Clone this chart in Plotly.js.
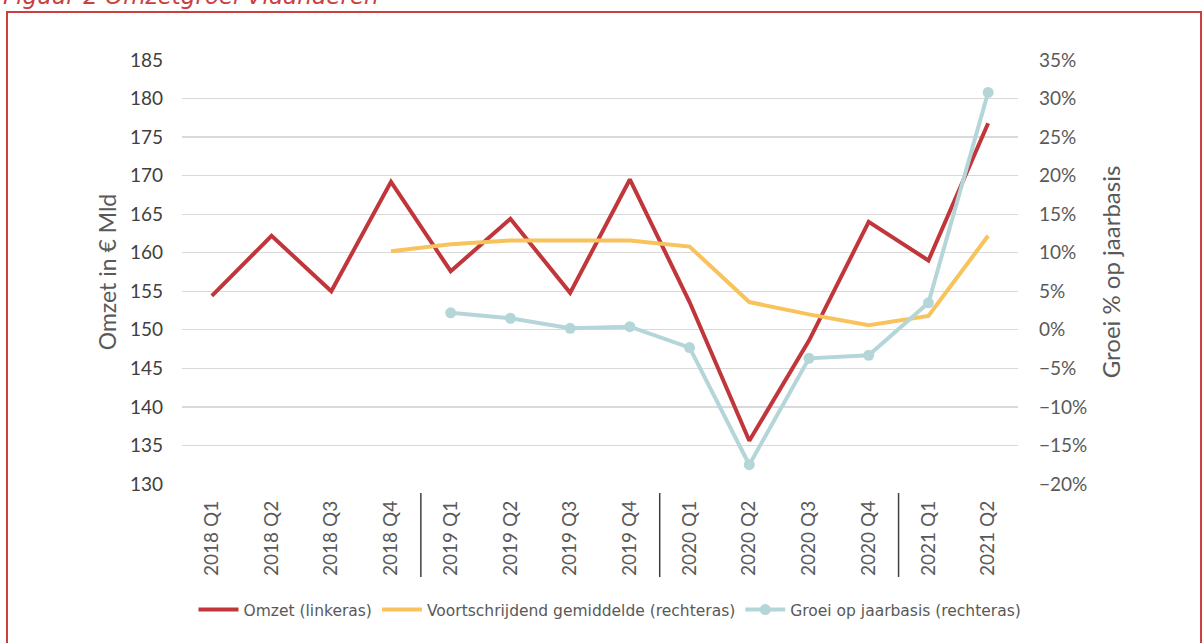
<!DOCTYPE html>
<html>
<head>
<meta charset="utf-8">
<script src="https://cdn.plot.ly/plotly-3.0.1.min.js"></script>
<style>
html,body{margin:0;padding:0;background:#fff;}
#chart{width:1203px;height:643px;}
</style>
</head>
<body>
<div id="chart"></div>
<script>
const categories = ["2018 Q1","2018 Q2","2018 Q3","2018 Q4","2019 Q1","2019 Q2","2019 Q3","2019 Q4","2020 Q1","2020 Q2","2020 Q3","2020 Q4","2021 Q1","2021 Q2"];
const omzet = [154.4, 162.2, 155.0, 169.2, 157.6, 164.4, 154.8, 169.5, 153.6, 135.6, 148.6, 164.0, 159.0, 176.8];
const voortschrijdend = [null, null, null, 0.102, 0.111, 0.116, 0.116, 0.116, 0.108, 0.036, 0.020, 0.006, 0.018, 0.122];
const groei = [null, null, null, null, 0.022, 0.015, 0.002, 0.004, -0.023, -0.175, -0.037, -0.033, 0.035, 0.308];
const yearBreaks = [3.5, 7.5, 11.5];

const FONT = "Lato, 'Open Sans', sans-serif";
const WIDE = "'DejaVu Sans', sans-serif";
const L = 182, R = 1018, T = 60, B = 484;
const W = R - L, H = B - T;
const px = x => (x - L) / W;
const py = y => (B - y) / H;

const traces = [
  {x: categories, y: omzet, name: "Omzet (linkeras)", type: "scatter", mode: "lines",
   line: {color: "#C0363A", width: 4}, yaxis: "y"},
  {x: categories, y: voortschrijdend, name: "Voortschrijdend gemiddelde (rechteras)", type: "scatter", mode: "lines",
   line: {color: "#F8C25C", width: 4}, yaxis: "y2"},
  {x: categories, y: groei, name: "Groei op jaarbasis (rechteras)", type: "scatter", mode: "lines+markers",
   line: {color: "#B5D6D9", width: 4}, marker: {color: "#B5D6D9", size: 11}, yaxis: "y2"}
];

const shapes = yearBreaks.map(b => ({
  type: "line", xref: "x", yref: "paper", x0: b, x1: b, y0: py(493), y1: py(577),
  line: {color: "#404040", width: 1.5}
}));
shapes.push({type: "rect", xref: "paper", yref: "paper",
  x0: px(7), x1: px(1201), y0: py(12), y1: py(645),
  line: {color: "#C9403F", width: 2}, fillcolor: "rgba(0,0,0,0)", layer: "below"});

const layout = {
  width: 1203, height: 643,
  margin: {l: L, r: 1203 - R, t: T, b: 643 - B, pad: 0, autoexpand: false},
  paper_bgcolor: "#fff", plot_bgcolor: "#fff",
  font: {family: FONT, color: "#595959"},
  showlegend: true,
  legend: {orientation: "h", xref: "container", x: 610 / 1203, xanchor: "center",
           yref: "container", y: (643 - 610) / 643, yanchor: "middle",
           font: {family: WIDE, size: 15.5, color: "#595959"}, itemwidth: 40, tracegroupgap: 0},
  xaxis: {type: "category", range: [-0.5, 13.5], showgrid: false, zeroline: false, showline: false,
          ticks: "", tickangle: -90, tickfont: {family: FONT, size: 19, color: "#595959"}, ticklabelstandoff: 12},
  yaxis: {range: [130, 185], dtick: 5, tick0: 130, showgrid: true, gridcolor: "#D9D9D9", gridwidth: 1.3,
          zeroline: false, showline: false, ticks: "", ticklabelstandoff: 18,
          tickfont: {family: FONT, size: 19, color: "#404040"},
          title: {text: "Omzet in € Mld", font: {family: FONT, size: 23, color: "#595959"}, standoff: 6}},
  yaxis2: {range: [-0.20, 0.35], dtick: 0.05, tick0: -0.2, tickformat: ".0%", overlaying: "y", side: "right",
           showgrid: false, zeroline: false, showline: false, ticks: "", ticklabelstandoff: 20,
           tickfont: {family: FONT, size: 19, color: "#595959"},
           title: {text: "Groei % op jaarbasis", font: {family: FONT, size: 24, color: "#595959"}, standoff: 16}},
  shapes: shapes,
  annotations: [{text: "<i>Figuur 2 Omzetgroei Vlaanderen</i>", xref: "paper", yref: "paper",
    x: px(381), xanchor: "right", y: py(-4), yanchor: "middle", showarrow: false,
    font: {family: WIDE, size: 23, color: "#C9403F"}}]
};

Plotly.newPlot("chart", traces, layout, {displayModeBar: false, staticPlot: true});
</script>
</body>
</html>
